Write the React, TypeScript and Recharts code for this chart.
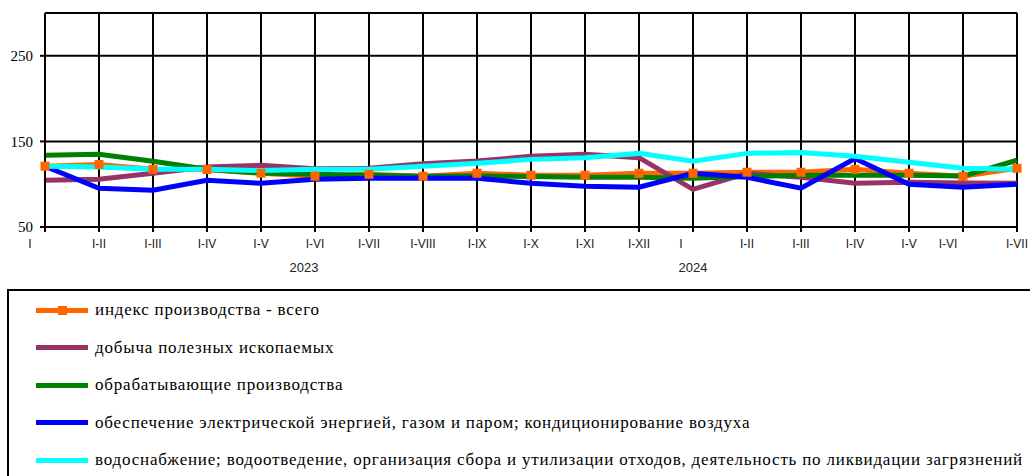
import { LineChart, Line, XAxis, YAxis, CartesianGrid, ReferenceLine } from "recharts";

const months = [
  "I", "I-II", "I-III", "I-IV", "I-V", "I-VI", "I-VII", "I-VIII", "I-IX", "I-X", "I-XI", "I-XII",
  "I", "I-II", "I-III", "I-IV", "I-V", "I-VI", "I-VII",
];
const years = ["2023", "2024"];
const yTicks = [50, 150, 250];

const total = [121, 123, 117.4, 117, 112.8, 109.3, 111.6, 109.3, 112.8, 110.5, 110.5, 112.8, 112.8, 114, 114, 117.4, 112.8, 109.3, 118.6];
const mining = [104.7, 105.8, 112.8, 120, 122, 118, 118.5, 124, 127, 132.6, 135, 131, 94, 112.8, 108, 101, 102.3, 101.5, 101];
const manufacturing = [133.7, 135, 126.7, 117.4, 113, 111.6, 110.5, 109.3, 109.5, 109, 108, 108, 107, 109, 110.5, 110.5, 110.5, 109.5, 128];
const electricity = [121, 95.3, 93, 104.7, 101, 105.8, 107, 107, 107, 101, 97.7, 96.5, 112.8, 108, 95.3, 130, 100, 96.5, 100];
const water = [121, 120, 117.4, 117.4, 116, 117.4, 117.4, 121, 124.4, 129, 131, 136, 126.7, 136, 137, 132.6, 125.6, 118.6, 117.4];

const series = [
  { key: "total", name: "индекс производства - всего", color: "#FF6600", values: total },
  { key: "mining", name: "добыча полезных ископаемых", color: "#993366", values: mining },
  { key: "manufacturing", name: "обрабатывающие производства", color: "#008000", values: manufacturing },
  { key: "electricity", name: "обеспечение электрической энергией, газом и паром; кондиционирование воздуха", color: "#0000FF", values: electricity },
  { key: "water", name: "водоснабжение; водоотведение, организация сбора и утилизации отходов, деятельность по ликвидации загрязнений", color: "#00FFFF", values: water },
];

const data = months.map((m, i) => {
  const row: Record<string, string | number> = { id: `${i < 12 ? years[0] : years[1]}-${m}`, label: m };
  series.forEach((s) => {
    row[s.key] = s.values[i];
  });
  return row;
});

const SERIF = "'Liberation Serif', 'Times New Roman', Times, 'DejaVu Serif', serif";
const SANS = "'Liberation Sans', Arial, sans-serif";

// label placement quirks of the original
const labelShift: Record<number, number> = { 0: -15, 12: -12, 17: -15 };
const yearAt: Record<number, { text: string; dx: number }> = {
  5: { text: years[0], dx: -11 },
  12: { text: years[1], dx: 0 },
};

const CategoryTick = (props: any) => {
  const { x, y, index } = props;
  const shift = labelShift[index] ?? 0;
  const year = yearAt[index];
  return (
    <g>
      <text x={x + shift} y={y + 14} textAnchor="middle" fontSize={12} fontFamily={SANS} fill="#222">
        {months[index]}
      </text>
      {year && (
        <text x={x + year.dx} y={y + 38} textAnchor="middle" fontSize={13} fontFamily={SANS} fill="#222">
          {year.text}
        </text>
      )}
    </g>
  );
};

const SquareDot = (props: any) => {
  const { cx, cy } = props;
  if (cx == null || cy == null) return null;
  return <rect x={cx - 4.5} y={cy - 4.5} width={9} height={9} fill="#FF6600" />;
};

const App = () => (
  <div style={{ position: "absolute", left: 0, top: 0, width: 1030, height: 476, overflow: "hidden", background: "#fff" }}>
    <LineChart width={1030} height={280} data={data} margin={{ top: 13, right: 13, left: 0, bottom: 0 }}>
      <CartesianGrid stroke="#000" strokeWidth={2} horizontalValues={[150, 250]} />
      <ReferenceLine y={300} stroke="#000" strokeWidth={2} />
      <XAxis
        dataKey="id"
        interval={0}
        height={53}
        tick={<CategoryTick />}
        tickSize={5}
        tickMargin={2}
        stroke="#000"
        strokeWidth={2}
        tickLine={{ stroke: "#000", strokeWidth: 2 }}
      />
      <YAxis
        domain={[50, 300]}
        ticks={yTicks}
        width={45}
        tickSize={5}
        tickMargin={7}
        stroke="#000"
        strokeWidth={2}
        tick={{ fontSize: 15, fontFamily: SERIF, fill: "#000" }}
        allowDataOverflow
      />
      <Line dataKey="total" stroke="#FF6600" strokeWidth={5} dot={false} isAnimationActive={false} />
      <Line dataKey="mining" stroke="#993366" strokeWidth={5} dot={false} isAnimationActive={false} />
      <Line dataKey="manufacturing" stroke="#008000" strokeWidth={5} dot={false} isAnimationActive={false} />
      <Line dataKey="electricity" stroke="#0000FF" strokeWidth={5} dot={false} isAnimationActive={false} />
      <Line dataKey="water" stroke="#00FFFF" strokeWidth={5} dot={false} isAnimationActive={false} />
      <Line dataKey="total" stroke="none" strokeWidth={0} dot={<SquareDot />} activeDot={false} legendType="none" isAnimationActive={false} />
    </LineChart>
    <div
      style={{
        position: "absolute",
        left: 7,
        top: 289,
        width: 1060,
        height: 220,
        borderTop: "2px solid #000",
        borderLeft: "2px solid #000",
        fontFamily: SERIF,
        fontSize: 17,
        letterSpacing: 0.8,
        color: "#000",
      }}
    >
      {series.map((s, i) => (
        <div key={s.key} style={{ position: "absolute", left: 27, top: 19 + i * 37.5 - 10, height: 20, display: "flex", alignItems: "center", whiteSpace: "nowrap" }}>
          <div style={{ position: "relative", width: 52, height: 5, background: s.color, marginRight: 7 }}>
            {i === 0 && <div style={{ position: "absolute", left: 22, top: -2, width: 9, height: 9, background: s.color }} />}
          </div>
          <span>{s.name}</span>
        </div>
      ))}
    </div>
  </div>
);

export default App;
